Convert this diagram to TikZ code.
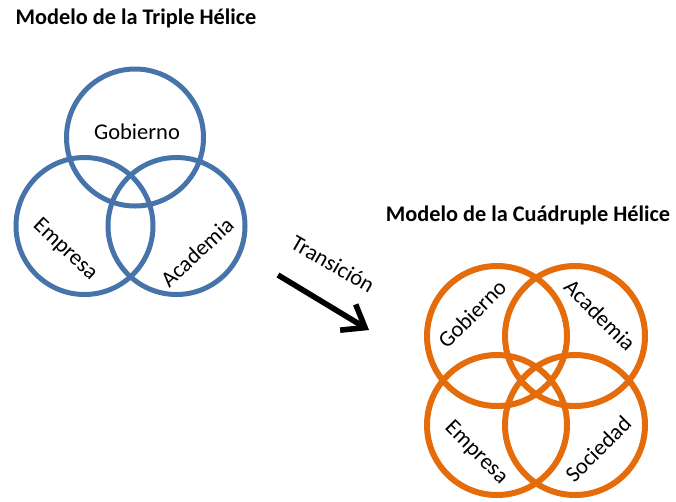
\documentclass[tikz,border=0pt]{standalone}
\usepackage{fontspec}
\setmainfont{Carlito}
\usetikzlibrary{arrows.meta}
\definecolor{helixblue}{RGB}{70,116,170}
\definecolor{helixorange}{RGB}{228,108,10}
\tikzset{
  bluering/.style = {circle, draw = helixblue, line width = 5pt, minimum size = 137pt, inner sep = 0pt},
  orangering/.style = {circle, draw = helixorange, line width = 6pt, minimum size = 140pt, inner sep = 0pt},
  lbl/.style = {font = \fontsize{22.5}{26}\selectfont, inner sep = 0pt},
  ttl/.style = {font = \fontsize{22.3}{26}\selectfont\bfseries, inner sep = 0pt},
  flecha/.style = {line width = 5.5pt, -{Straight Barb[length = 20pt, width = 30pt]}}
}

\begin{document}
\begin{tikzpicture}[x = 1pt, y = -1pt]
		\useasboundingbox (0, 0) rectangle (676, 501);
		%%%%%%%%%%%%%
		\node [ttl] (tit3) at (136, 18) {Modelo de la Triple Hélice};
		\node [ttl] (tit4) at (528, 215) {Modelo de la Cuádruple Hélice};
		%%%%%%%%%%%%%
		\node [bluering] (bgob) at (135, 137.5) {};
		\node [bluering] (bemp) at (84.5, 226) {};
		\node [bluering] (baca) at (176.5, 226) {};
		\node [lbl] (tbgob) at (137, 132) {Gobierno};
		\node [lbl, rotate = -43] (tbemp) at (65, 250) {Empresa};
		\node [lbl, rotate = 43] (tbaca) at (197, 252) {Academia};
		%%%%%%%%%%%%%
		\node [orangering] (ogob) at (497, 336) {};
		\node [orangering] (oaca) at (575, 336) {};
		\node [orangering] (oemp) at (497, 425) {};
		\node [orangering] (osoc) at (575, 425) {};
		\node [lbl, rotate = 45] (togob) at (472, 314) {Gobierno};
		\node [lbl, rotate = -45] (toaca) at (600, 315) {Academia};
		\node [lbl, rotate = -45] (toemp) at (476, 453) {Empresa};
		\node [lbl, rotate = 45] (tosoc) at (598, 449) {Sociedad};
		%%%%%%%%%%%%%
		\coordinate (t0) at (278, 275);
		\coordinate (t1) at (369, 330);
		\draw [flecha, black!25, shift = {(2, 3)}] (t0) to (t1);
		\draw [flecha] (t0) to (t1);
		\node [lbl, rotate = -30] (ttra) at (333, 264) {Transición};
\end{tikzpicture}
\end{document}
